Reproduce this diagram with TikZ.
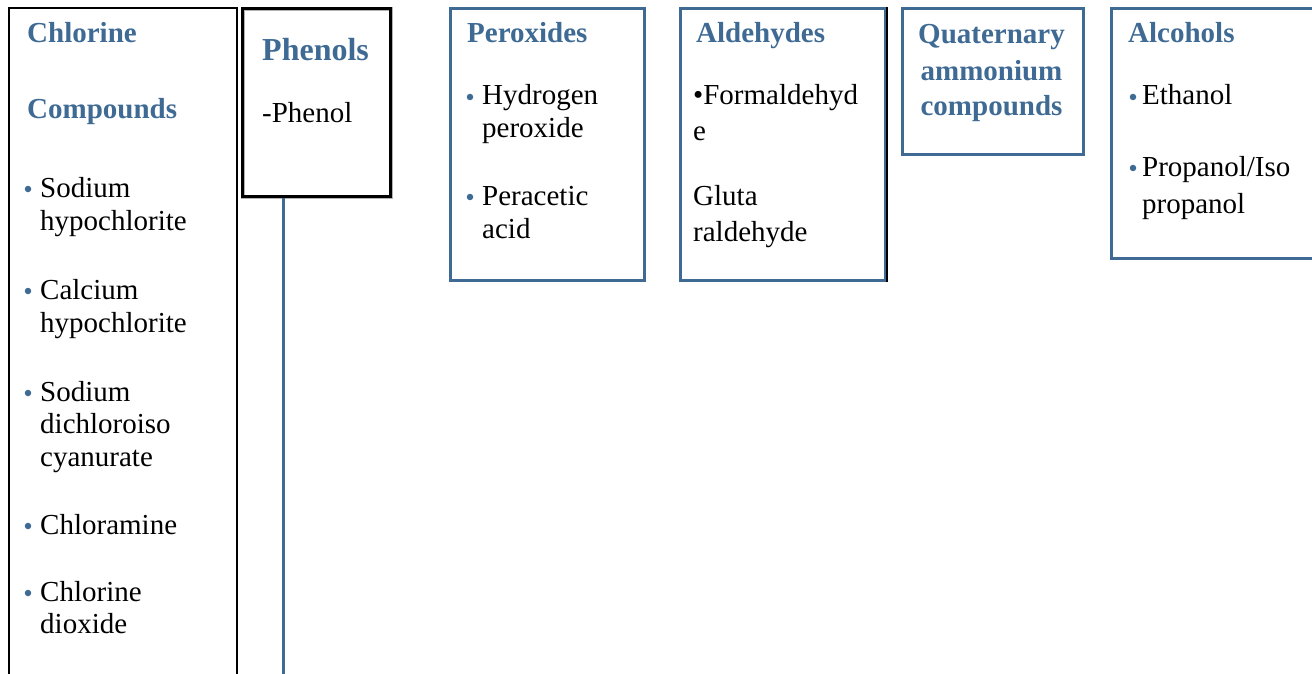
\documentclass[tikz,border=0pt]{standalone}
\usepackage{fontspec}
\setmainfont{Liberation Serif}
\definecolor{hblue}{RGB}{62,106,148}
\begin{document}
\begin{tikzpicture}[x=1pt,y=-1pt,
  txt/.style={anchor=base west,inner sep=0pt,font=\fontsize{29}{33}\selectfont},
  head/.style={anchor=base west,inner sep=0pt,font=\fontsize{29}{33}\selectfont\bfseries,text=hblue},
  bbox/.style={draw=hblue,line width=3pt,anchor=north west,inner sep=0pt},
  kbox/.style={draw=black,line width=2pt,anchor=north west,inner sep=0pt},
  dot/.style={circle,fill=hblue,inner sep=0pt,minimum size=6.5pt}]
\useasboundingbox (0,0) rectangle (1312,674);
% boxes
\node[kbox,minimum width=228pt,minimum height=700pt] (cl) at (8,7) {};
\node[draw=gray!60,line width=4pt,anchor=north west,inner sep=0pt,minimum width=148pt,minimum height=188pt] (phg) at (241,7) {};
\node[kbox,line width=2.6pt,minimum width=148pt,minimum height=188pt] (ph) at (241,7) {};
\node[bbox,minimum width=194pt,minimum height=272pt] (pe) at (449,7) {};
\node[bbox,minimum width=205pt,minimum height=272pt] (al) at (679,7) {};
\draw[black,line width=2pt] (al.north east) -- (al.south east);
\node[bbox,minimum width=181pt,minimum height=146pt] (qa) at (901,7) {};
\node[bbox,minimum width=230pt,minimum height=250pt] (ac) at (1110,7) {};
\coordinate (phend) at (283,674);
\draw[hblue,line width=3pt] (ph.south -| phend) -- (phend);
% Chlorine compounds
\node[head] (c1) at (27,43) {Chlorine};
\node[head] (c2) at (27,119) {Compounds};
\node[dot] (d1) at (28,189) {};
\node[txt] (c3) at (40,197) {Sodium};
\node[txt] (c4) at (40,230) {hypochlorite};
\node[dot] (d2) at (28,291) {};
\node[txt] (c5) at (40,299) {Calcium};
\node[txt] (c6) at (40,332) {hypochlorite};
\node[dot] (d3) at (28,393) {};
\node[txt] (c7) at (40,401) {Sodium};
\node[txt] (c8) at (40,433) {dichloroiso};
\node[txt] (c9) at (40,466) {cyanurate};
\node[dot] (d4) at (28,526) {};
\node[txt] (c10) at (40,534) {Chloramine};
\node[dot] (d5) at (28,593) {};
\node[txt] (c11) at (40,601) {Chlorine};
\node[txt] (c12) at (40,633) {dioxide};
% Phenols
\node[head,font=\fontsize{32}{36}\selectfont\bfseries] (p1) at (262,61) {Phenols};
\node[txt] (p2) at (262,123) {-Phenol};
% Peroxides
\node[head] (x1) at (467,43) {Peroxides};
\node[dot] (d6) at (470,97) {};
\node[txt] (x2) at (482,105) {Hydrogen};
\node[txt] (x3) at (482,138) {peroxide};
\node[dot] (d7) at (470,197) {};
\node[txt] (x4) at (482,205) {Peracetic};
\node[txt] (x5) at (482,238) {acid};
% Aldehydes
\node[head] (a1) at (696,43) {Aldehydes};
\node[txt] (a2) at (693,105) {•Formaldehyd};
\node[txt] (a3) at (693,141) {e};
\node[txt] (a4) at (693,205) {Gluta};
\node[txt] (a5) at (693,241) {raldehyde};
% Quaternary
\node[head,anchor=base] (q1) at (991.5,44) {Quaternary};
\node[head,anchor=base] (q2) at (991.5,81) {ammonium};
\node[head,anchor=base] (q3) at (991.5,116) {compounds};
% Alcohols
\node[head] (l1) at (1128,43) {Alcohols};
\node[dot] (d8) at (1133,97) {};
\node[txt] (l2) at (1142,105) {Ethanol};
\node[dot] (d9) at (1133,168) {};
\node[txt] (l3) at (1142,176) {Propanol/Iso};
\node[txt] (l4) at (1142,213) {propanol};
\end{tikzpicture}
\end{document}
